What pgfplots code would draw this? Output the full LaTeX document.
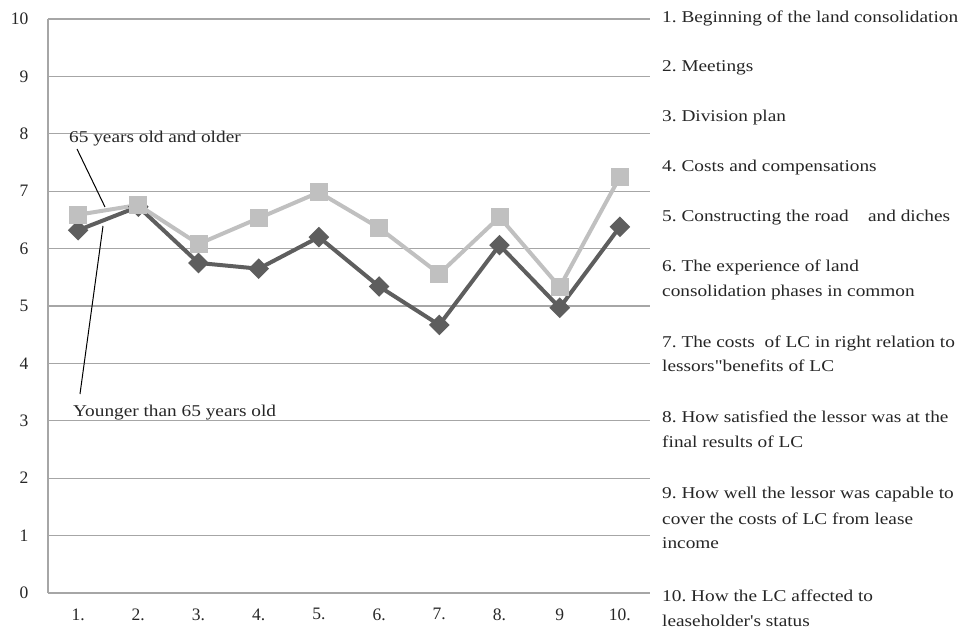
\documentclass[border=0pt]{standalone}
\usepackage{fontspec}
\setmainfont{Liberation Serif}
\newfontfamily\lab{Liberation Serif}[FakeStretch=1.17]
\usepackage{pgfplots}
\pgfplotsset{compat=1.18}
\definecolor{darkser}{HTML}{5E5E5E}
\definecolor{lightser}{HTML}{C0C0C0}
\definecolor{gridc}{HTML}{A6A6A6}
\begin{document}
\frenchspacing
\begin{tikzpicture}
\useasboundingbox (-48pt,-37pt) rectangle (916pt,593pt);
\begin{axis}[
  at={(0pt,0pt)}, anchor=south west,
  scale only axis, width=602pt, height=574pt,
  xmin=0.5, xmax=10.5, ymin=0, ymax=10,
  axis lines=left, axis line style={-, draw=gridc, line width=1.4pt},
  xtick={1,...,10}, xticklabels={1.,2.,3.,4.,5.,6.,7.,8.,9,10.},
  ytick={0,...,10},
  ymajorgrids, major grid style={draw=gridc, line width=1.3pt},
  major tick length=0pt, tick style={draw=none},
  /pgf/number format/assume math mode=true,
  ticklabel style={font=\fontsize{17.5}{20}\selectfont, text=black!85},
  yticklabel style={xshift=-16pt},
  xticklabel style={yshift=-12pt},
  clip=false,
]
\addplot[color=darkser, line width=4pt, mark=square*, mark size=5.3pt,
  mark options={rotate=45, solid, fill=darkser}] coordinates {
  (1,6.32) (2,6.73) (3,5.75) (4,5.65) (5,6.20) (6,5.34) (7,4.67) (8,6.06) (9,4.97) (10,6.38)};
\addplot[color=lightser, line width=4pt, mark=square*, mark size=7pt,
  mark options={solid, fill=lightser}] coordinates {
  (1,6.59) (2,6.76) (3,6.08) (4,6.53) (5,6.98) (6,6.36) (7,5.56) (8,6.55) (9,5.33) (10,7.25)};
\end{axis}
\draw[black, line width=1pt] (29pt,444pt) -- (57pt,386pt);
\draw[black, line width=1pt] (55pt,367pt) -- (32pt,199pt);
\begin{scope}[every node/.style={anchor=base west, inner sep=0pt, font=\lab\fontsize{16.5}{19}\selectfont, text=black!85}]
\node at (21pt,450pt) {65 years old and older};
\node at (25pt,177pt) {Younger than 65 years old};
\node at (614pt,570pt) {1. Beginning of the land consolidation};
\node at (614pt,521pt) {2. Meetings};
\node at (614pt,471pt) {3. Division plan};
\node at (614pt,421pt) {4. Costs and compensations};
\node at (614pt,371pt) {5. Constructing the road\ \ \ \ and diches};
\node at (614pt,322pt) {6. The experience of land};
\node at (614pt,297pt) {consolidation phases in common};
\node at (614pt,246pt) {7. The costs\ \ of LC in right relation to};
\node at (614pt,222pt) {lessors"benefits of LC};
\node at (614pt,171pt) {8. How satisfied the lessor was at the};
\node at (614pt,146pt) {final results of LC};
\node at (614pt,95pt) {9. How well the lessor was capable to};
\node at (614pt,69pt) {cover the costs of LC from lease};
\node at (614pt,45pt) {income};
\node at (614pt,-8pt) {10. How the LC affected to};
\node at (614pt,-33pt) {leaseholder's status};
\end{scope}
\end{tikzpicture}
\end{document}
